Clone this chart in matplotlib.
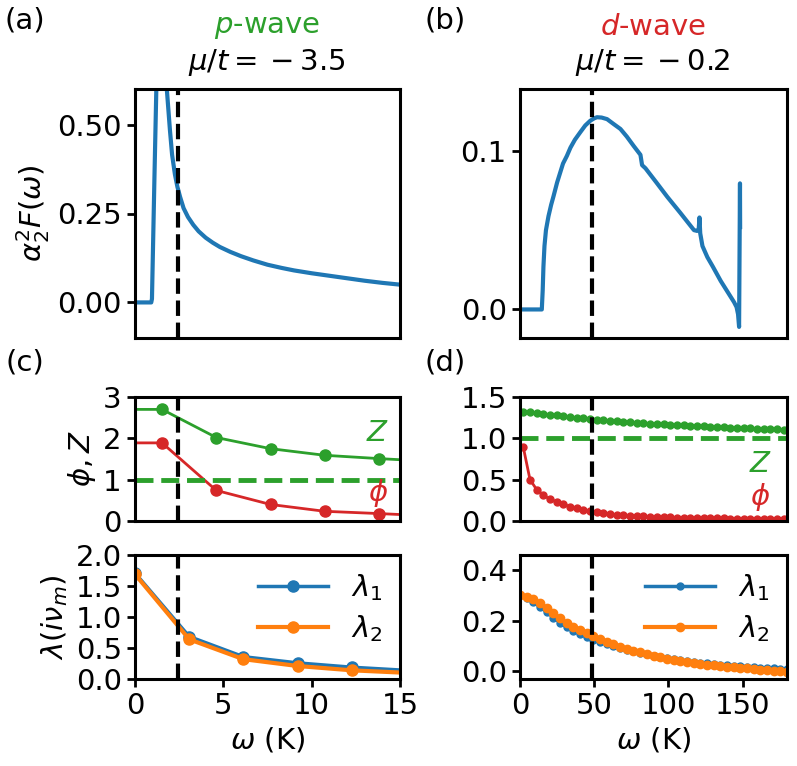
import matplotlib
matplotlib.use("Agg")
import matplotlib.pyplot as plt

plt.rcParams["font.family"] = ["DejaVu Sans"]
plt.rcParams["font.size"] = 21
plt.rcParams["mathtext.fontset"] = "dejavusans"

BLUE, ORANGE, GREEN, RED = "#1f77b4", "#ff7f0e", "#2ca02c", "#d62728"

# ---- (a) p-wave spectral function ----
w_a = [0, 0.92, 0.96, 1.1, 1.25, 1.4, 1.55, 1.7, 1.8, 1.9, 1.98, 2.1, 2.26, 2.4,
       2.55, 2.75, 3.0, 3.3, 3.6, 4.0, 4.4, 4.8, 5.4, 6.0, 6.7, 7.5, 8.3, 9.0,
       10.0, 11.0, 12.0, 13.0, 14.0, 15.0]
a2f_a = [0, 0, 0.01, 0.35, 0.7, 1.0, 0.9, 0.68, 0.6, 0.535, 0.483, 0.415, 0.36, 0.325,
         0.297, 0.265, 0.24, 0.218, 0.2, 0.182, 0.168, 0.156, 0.142, 0.13, 0.118, 0.106,
         0.097, 0.09, 0.082, 0.075, 0.068, 0.061, 0.055, 0.05]

# ---- (b) d-wave spectral function ----
w_b = [0, 14.7, 15.3, 15.8, 16.5, 17.5, 19.2, 21, 22.6, 25, 27.1, 29, 31.6, 34, 37,
       40.6, 44, 47.4, 50, 51.9, 55, 58.7, 63, 67.7, 72, 76.7, 81.2, 82.3, 84.6, 92,
       99.3, 108, 117.3, 119.5, 120.5, 121.0, 121.5, 123, 126.3, 130, 135.3, 140,
       144.3, 146, 147, 147.7, 148.3, 148.4]
a2f_b = [0, 0, 0.012, 0.027, 0.040, 0.050, 0.0588, 0.066, 0.0714, 0.080, 0.0863, 0.092,
         0.0968, 0.102, 0.107, 0.1117, 0.116, 0.119, 0.1205, 0.1212, 0.121, 0.120, 0.117,
         0.1138, 0.109, 0.103, 0.0975, 0.091, 0.089, 0.080, 0.071, 0.061, 0.050, 0.0495,
         0.051, 0.058, 0.048, 0.040, 0.033, 0.027, 0.018, 0.011, 0.0046, 0.0015, -0.003,
         -0.011, 0.0795, 0.052]

# ---- (c) p-wave Eliashberg solution ----
wn_c = [-1.53, 1.53, 4.60, 7.67, 10.73, 13.80, 16.87]
Z_c = [2.70, 2.70, 2.02, 1.75, 1.59, 1.51, 1.44]
phi_c = [1.89, 1.89, 0.74, 0.40, 0.235, 0.18, 0.12]
nu_c = [0, 3.07, 6.13, 9.20, 12.27, 15.33]
lam1_c = [1.71, 0.685, 0.36, 0.26, 0.19, 0.14]
lam2_c = [1.69, 0.64, 0.32, 0.21, 0.14, 0.10]

# ---- (d) d-wave Eliashberg solution ----
wn_d = [2.25, 6.75, 11.25, 15.75, 20.25, 24.75, 29.25, 33.75, 38.25, 42.75,
        47.25, 51.75, 56.25, 60.75, 65.25, 69.75, 74.25, 78.75, 83.25, 87.75,
        92.25, 96.75, 101.25, 105.75, 110.25, 114.75, 119.25, 123.75, 128.25, 132.75,
        137.25, 141.75, 146.25, 150.75, 155.25, 159.75, 164.25, 168.75, 173.25, 177.75]
Z_d = [1.322, 1.313, 1.304, 1.295, 1.286, 1.277, 1.268, 1.259, 1.250, 1.242,
       1.234, 1.227, 1.220, 1.213, 1.207, 1.201, 1.195, 1.189, 1.184, 1.179,
       1.174, 1.169, 1.164, 1.160, 1.156, 1.152, 1.148, 1.144, 1.140, 1.136,
       1.133, 1.130, 1.127, 1.124, 1.121, 1.118, 1.115, 1.112, 1.109, 1.106]
phi_d = [0.89, 0.50, 0.38, 0.31, 0.265, 0.23, 0.20, 0.175, 0.152, 0.133,
         0.117, 0.104, 0.093, 0.084, 0.076, 0.070, 0.064, 0.059, 0.055, 0.051,
         0.048, 0.045, 0.043, 0.041, 0.039, 0.037, 0.036, 0.034, 0.033, 0.032,
         0.031, 0.030, 0.029, 0.028, 0.027, 0.026, 0.026, 0.025, 0.024, 0.024]
nu_d = [0, 4.5, 9, 13.5, 18, 22.5, 27, 31.5, 36, 40.5, 45, 49.5, 54, 58.5, 63,
        67.5, 72, 76.5, 81, 85.5, 90, 94.5, 99, 103.5, 108, 112.5, 117, 121.5, 126,
        130.5, 135, 139.5, 144, 148.5, 153, 157.5, 162, 166.5, 171, 175.5, 180]
lam1_d = [0.30, 0.29, 0.275, 0.255, 0.235, 0.213, 0.193, 0.175, 0.16, 0.147,
          0.136, 0.126, 0.117, 0.108, 0.10, 0.093, 0.086, 0.079, 0.073, 0.067,
          0.062, 0.057, 0.052, 0.048, 0.044, 0.041, 0.038, 0.035, 0.032, 0.030,
          0.027, 0.025, 0.023, 0.021, 0.019, 0.017, 0.015, 0.013, 0.012, 0.010, 0.009]
lam2_d = [0.30, 0.295, 0.285, 0.27, 0.25, 0.23, 0.21, 0.19, 0.175, 0.162,
          0.15, 0.138, 0.127, 0.117, 0.107, 0.098, 0.09, 0.082, 0.075, 0.068,
          0.061, 0.055, 0.049, 0.044, 0.040, 0.036, 0.033, 0.030, 0.027, 0.024,
          0.021, 0.019, 0.016, 0.014, 0.012, 0.010, 0.007, 0.005, 0.003, 0.0, -0.003]

tc_p = 2.45   # dashed marker, p-wave
tc_d = 48.5   # dashed marker, d-wave

W, H = 797, 766
fig = plt.figure(figsize=(W / 100, H / 100), dpi=100)


def px_axes(left, top, right, bottom):
    return fig.add_axes([left / W, 1 - bottom / H, (right - left) / W, (bottom - top) / H])


def style(ax, xlabels=True):
    for s in ax.spines.values():
        s.set_linewidth(2.2)
    ax.tick_params(width=2, length=6, labelsize=21)
    if not xlabels:
        ax.tick_params(axis="x", bottom=False, labelbottom=False)


ax_a = px_axes(135, 89, 400, 338)
ax_b = px_axes(520, 89, 787, 338)
ax_c1 = px_axes(135, 397, 400, 521)
ax_c2 = px_axes(135, 555, 400, 679)
ax_d1 = px_axes(520, 397, 787, 521)
ax_d2 = px_axes(520, 555, 787, 679)

# (a)
ax_a.plot(w_a, a2f_a, color=BLUE, lw=3)
ax_a.axvline(tc_p, color="k", ls="--", lw=3)
ax_a.set_xlim(0, 15)
ax_a.set_ylim(-0.1, 0.6)
ax_a.set_yticks([0, 0.25, 0.5])
ax_a.set_ylabel(r"$\alpha_2^2F(\omega)$")
style(ax_a, False)

# (b)
ax_b.plot(w_b, a2f_b, color=BLUE, lw=3)
ax_b.axvline(tc_d, color="k", ls="--", lw=3)
ax_b.set_xlim(0, 180)
ax_b.set_ylim(-0.018, 0.139)
ax_b.set_yticks([0, 0.1])
style(ax_b, False)

# (c) top
ax_c1.plot(wn_c, Z_c, color=GREEN, marker="o", ms=8, lw=2)
ax_c1.plot(wn_c, phi_c, color=RED, marker="o", ms=8, lw=2)
ax_c1.axhline(1, color=GREEN, ls="--", lw=3.5)
ax_c1.axhline(0, color=RED, ls="--", lw=2)
ax_c1.axvline(tc_p, color="k", ls="--", lw=3)
ax_c1.text(13.75, 2.12, r"$Z$", color=GREEN, ha="center", va="center")
ax_c1.text(13.75, 0.67, r"$\phi$", color=RED, ha="center", va="center")
ax_c1.set_xlim(0, 15)
ax_c1.set_ylim(0, 3)
ax_c1.set_yticks([0, 1, 2, 3])
ax_c1.set_ylabel(r"$\phi, Z$")
style(ax_c1, False)

# (c) bottom
ax_c2.plot(nu_c, lam1_c, color=BLUE, marker="o", ms=8, lw=2.5, label=r"$\lambda_1$")
ax_c2.plot(nu_c, lam2_c, color=ORANGE, marker="o", ms=8, lw=3, label=r"$\lambda_2$")
ax_c2.axvline(tc_p, color="k", ls="--", lw=3)
ax_c2.set_xlim(0, 15)
ax_c2.set_ylim(0, 2)
ax_c2.set_yticks([0, 0.5, 1.0, 1.5, 2.0])
ax_c2.set_xticks([0, 5, 10, 15])
ax_c2.set_xlabel(r"$\omega$ (K)")
ax_c2.set_ylabel(r"$\lambda(i\nu_m)$")
ax_c2.legend(loc="upper right", frameon=False, handlelength=2.4, fontsize=21,
             borderaxespad=0.2, labelspacing=0.35)
style(ax_c2)

# (d) top
ax_d1.plot(wn_d, Z_d, color=GREEN, marker="o", ms=5, lw=2)
ax_d1.plot(wn_d, phi_d, color=RED, marker="o", ms=5, lw=2)
ax_d1.axhline(1, color=GREEN, ls="--", lw=3.5)
ax_d1.axhline(0, color=RED, ls="--", lw=2)
ax_d1.axvline(tc_d, color="k", ls="--", lw=3)
ax_d1.text(162, 0.69, r"$Z$", color=GREEN, ha="center", va="center")
ax_d1.text(162, 0.29, r"$\phi$", color=RED, ha="center", va="center")
ax_d1.set_xlim(0, 180)
ax_d1.set_ylim(0, 1.5)
ax_d1.set_yticks([0, 0.5, 1.0, 1.5])
style(ax_d1, False)

# (d) bottom
ax_d2.plot(nu_d, lam1_d, color=BLUE, marker="o", ms=5, lw=2.5, label=r"$\lambda_1$")
ax_d2.plot(nu_d, lam2_d, color=ORANGE, marker="o", ms=6, lw=3, label=r"$\lambda_2$")
ax_d2.axvline(tc_d, color="k", ls="--", lw=3)
ax_d2.set_xlim(0, 180)
ax_d2.set_ylim(-0.03, 0.46)
ax_d2.set_yticks([0, 0.2, 0.4])
ax_d2.set_xticks([0, 50, 100, 150])
ax_d2.set_xlabel(r"$\omega$ (K)")
ax_d2.legend(loc="upper right", frameon=False, handlelength=2.4, fontsize=21,
             borderaxespad=0.2, labelspacing=0.35)
style(ax_d2)

# titles and panel letters
fig.text(267 / W, 1 - 27 / H, r"$p$-wave", color=GREEN, ha="center", va="center")
fig.text(267 / W, 1 - 62 / H, r"$\mu/t={}-3.5$", color="k", ha="center", va="center")
fig.text(653 / W, 1 - 27 / H, r"$d$-wave", color=RED, ha="center", va="center")
fig.text(653 / W, 1 - 62 / H, r"$\mu/t={}-0.2$", color="k", ha="center", va="center")
fig.text(25 / W, 1 - 20 / H, "(a)", ha="center", va="center")
fig.text(445 / W, 1 - 20 / H, "(b)", ha="center", va="center")
fig.text(25 / W, 1 - 362 / H, "(c)", ha="center", va="center")
fig.text(445 / W, 1 - 362 / H, "(d)", ha="center", va="center")

fig.savefig("out.png", dpi=100)
